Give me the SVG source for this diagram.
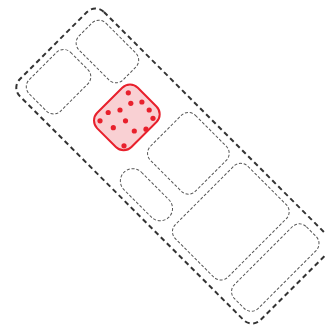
<svg xmlns="http://www.w3.org/2000/svg" width="325" height="330" viewBox="0 0 325 330">
<style>
.outer{fill:none;stroke:#333;stroke-width:2;stroke-dasharray:5 3.5}
.cell{fill:none;stroke:#555;stroke-width:1;stroke-dasharray:3 1.8}
.hot{fill:#f9d0d3;stroke:#e8202c;stroke-width:2}
.dot{fill:#e8202c}
</style>
<rect width="325" height="330" fill="#fff"/>
<g id="container" transform="rotate(45)">
  <rect class="outer" x="70" y="-65" width="340.5" height="119" rx="12"/>
</g>
<g id="node-a" transform="rotate(45)">
  <rect class="cell" x="81.3" y="-58.5" width="62.2" height="38" rx="10"/>
</g>
<g id="node-b" transform="rotate(45)">
  <rect class="cell" x="77" y="-12.9" width="44.4" height="58.6" rx="10"/>
</g>
<g id="node-red">
  <rect class="hot" transform="rotate(45)" x="148.5" y="-35.4" width="48.4" height="57.4" rx="11"/>
  <circle class="dot" cx="128.3" cy="92.8" r="2.6"/>
  <circle class="dot" cx="130.8" cy="103.3" r="2.6"/>
  <circle class="dot" cx="141.9" cy="102" r="2.6"/>
  <circle class="dot" cx="108.2" cy="112.5" r="2.6"/>
  <circle class="dot" cx="120" cy="110" r="2.6"/>
  <circle class="dot" cx="149.2" cy="110" r="2.6"/>
  <circle class="dot" cx="100" cy="120.8" r="2.6"/>
  <circle class="dot" cx="125.5" cy="120.8" r="2.6"/>
  <circle class="dot" cx="153" cy="118.3" r="2.6"/>
  <circle class="dot" cx="113.3" cy="127.7" r="2.6"/>
  <circle class="dot" cx="134.3" cy="131" r="2.6"/>
  <circle class="dot" cx="146" cy="129.2" r="2.6"/>
  <circle class="dot" cx="124" cy="145.8" r="2.6"/>
</g>
<g id="node-c" transform="rotate(45)">
  <rect class="cell" x="209.8" y="-56.6" width="63.6" height="63.6" rx="10"/>
</g>
<g id="node-d" transform="rotate(45)">
  <rect class="cell" x="209.5" y="21.8" width="63.5" height="24.7" rx="12.3"/>
</g>
<g id="node-e" transform="rotate(45)">
  <rect class="cell" x="282.8" y="-57.7" width="74.3" height="102.5" rx="10"/>
</g>
<g id="node-f" transform="rotate(45)">
  <rect class="cell" x="367" y="-56.3" width="33.7" height="101.7" rx="10"/>
</g>
<g id="connectors"/>
</svg>
